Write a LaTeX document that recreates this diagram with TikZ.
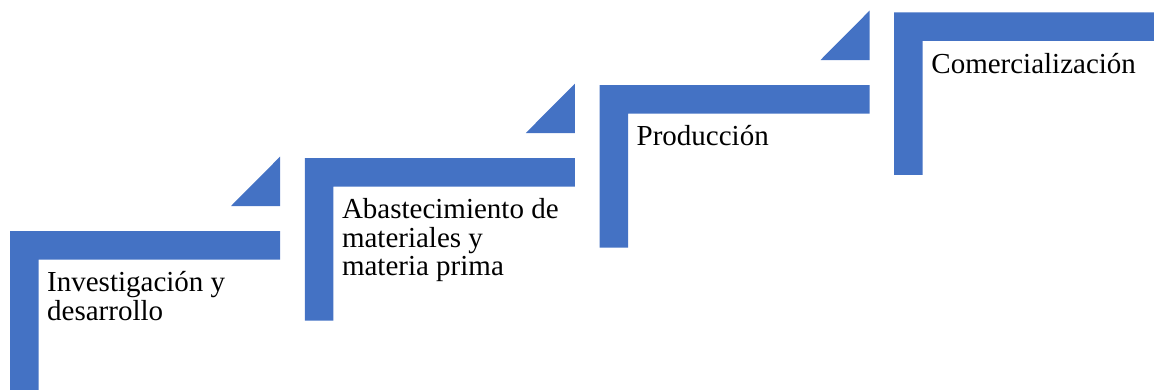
\documentclass[tikz,border=0pt]{standalone}
\usepackage{fontspec}
\setmainfont{Liberation Serif}
\usetikzlibrary{calc}

\begin{document}
\begin{tikzpicture}[x=1pt,y=-1pt]
      \definecolor{stairblue}{HTML}{4472C4}
      \tikzset{
        stairtext/.style={anchor=base west,inner sep=0,
          font=\fontsize{29}{28.3}\selectfont}
      }

      \def\barw{270}   % length of the top bar
      \def\bart{28.5}  % thickness of the bars
      \def\barh{162.5} % height of the upright bar
      \def\stair#1{\fill[stairblue] (#1) -- ++(\barw,0) -- ++(0,\bart)
        -- ++({\bart-\barw},0) -- ++(0,{\barh-\bart}) -- ++(-\bart,0) -- cycle;}
      \def\flag#1{\fill[stairblue] ($(#1)+(\barw-49,-25)$) -- ++(49,0)
        -- ++(0,-49.3) -- cycle;}
      \def\stairlines#1{\begin{tabular}[t]{@{}l@{}}#1\end{tabular}} % baseline = first line

      \useasboundingbox (0,0) rectangle (1154,389);
      \clip (0,0) rectangle (1154,389);

      % CORNERS OF THE STEPS
      \coordinate (S1) at (10,231);
      \coordinate (S2) at (304.8,158);
      \coordinate (S3) at (599.5,85);
      \coordinate (S4) at (894.2,12.3);

      % STEPS
      \stair{S1} \stair{S2} \stair{S3} \stair{S4}

      % TRIANGLES
      \flag{S1} \flag{S2} \flag{S3}

      % LABELS
      \node[stairtext] (invest) at ($(S1)+(37,60.7)$) {\stairlines{Investigación y\\desarrollo}};
      \node[stairtext] (abast) at ($(S2)+(37,60.7)$) {\stairlines{Abastecimiento de\\materiales y\\materia prima}};
      \node[stairtext] (prod) at ($(S3)+(37,60.7)$) {Producción};
      \node[stairtext] (comer) at ($(S4)+(37,60.7)$) {Comercialización};

\end{tikzpicture}
\end{document}
